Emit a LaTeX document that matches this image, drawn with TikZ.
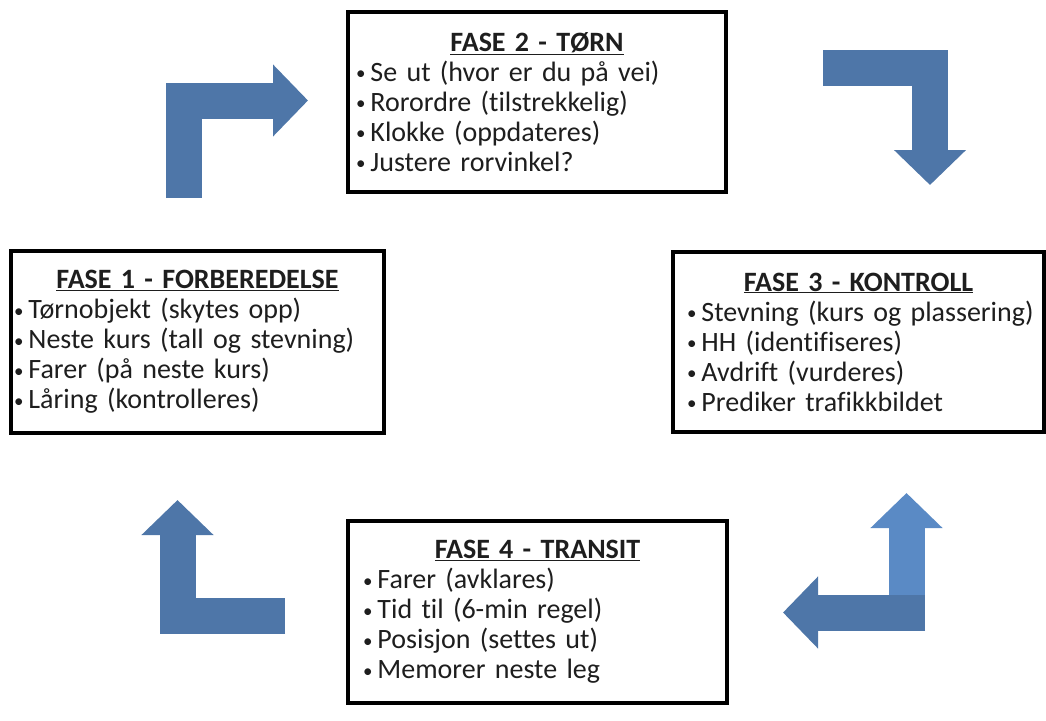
\documentclass[tikz,border=0pt]{standalone}
\usepackage{fontspec}
\setmainfont{Carlito}[Ligatures=NoCommon]
\usetikzlibrary{arrows.meta}

\definecolor{pilblaa}{HTML}{4E76A8}
\definecolor{pillys}{HTML}{5A8AC5}
\definecolor{teksgraa}{HTML}{1E1E1E}

\newcommand{\fasetittel}[1]{\makebox[\hsize]{\bfseries\underline{#1}}}
\newcommand{\punkt}[1]{\\\mbox{\raisebox{1.5pt}{\fontsize{19}{19}\selectfont•}\hspace{5pt}#1}}

\begin{document}
\begin{tikzpicture}[x=1pt,y=-1pt,
  every path/.style={line join=miter},
  fase/.style={draw=black,line width=3.2pt,fill=white,rectangle,align=left,
               text=teksgraa,inner ysep=0pt,
               font=\fontsize{28}{30}\selectfont},
  blokkpil/.style={draw=#1,line width=36pt,
                   -{Triangle[width=70pt,length=35pt]}},
  blokkpil/.default=pilblaa]
\useasboundingbox (0,0) rectangle (1046,720);

% boksene
\node[fase,minimum height=182,text width=367,inner xsep=3]  (f1) at (197.5,342)
  {\fasetittel{FASE 1 - FORBEREDELSE}\punkt{Tørnobjekt (skytes opp)}\punkt{Neste kurs (tall og stevning)}\punkt{Farer (på neste kurs)}\punkt{Låring (kontrolleres)}};
\node[fase,minimum height=180,text width=362,inner xsep=8]  (f2) at (537,102)
  {\fasetittel{FASE 2 - TØRN}\punkt{Se ut (hvor er du på vei)}\punkt{Rorordre (tilstrekkelig)}\punkt{Klokke (oppdateres)}\punkt{Justere rorvinkel?}};
\node[fase,minimum height=180,text width=343,inner xsep=14] (f3) at (858.5,342)
  {\fasetittel{FASE 3 - KONTROLL}\punkt{Stevning (kurs og plassering)}\punkt{HH (identifiseres)}\punkt{Avdrift (vurderes)}\punkt{Prediker trafikkbildet}};
\node[fase,minimum height=182,text width=349,inner xsep=15] (f4) at (537.5,612)
  {\fasetittel{FASE 4 - TRANSIT}\punkt{Farer (avklares)}\punkt{Tid til (6-min regel)}\punkt{Posisjon (settes ut)}\punkt{Memorer neste leg}};

% pilene
\draw[blokkpil]         (183.5,198) -- (183.5,100.5) -- (308,100.5);
\draw[blokkpil]         (823,67.5)  -- (930,67.5)    -- (930,185);
\draw[blokkpil=pillys]  (906.5,630) -- (906.5,493);
\draw[blokkpil]         (925,612.5) -- (783,612.5);
\draw[blokkpil]         (285,615.5) -- (177.5,615.5) -- (177.5,500);
\end{tikzpicture}
\end{document}
